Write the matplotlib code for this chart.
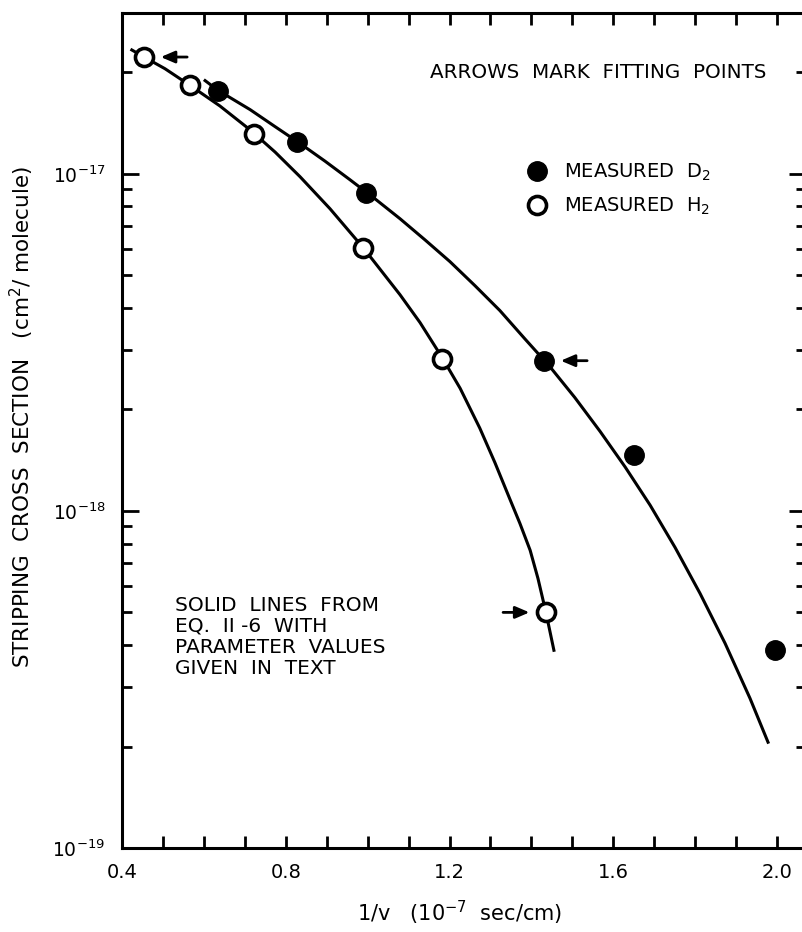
import matplotlib

matplotlib.use("Agg")
import matplotlib.pyplot as plt
from matplotlib.lines import Line2D
from matplotlib.ticker import FixedLocator, LogLocator, NullFormatter, MultipleLocator

plt.rcParams.update(
    {
        "font.family": "DejaVu Sans",
        "font.size": 12,
        "mathtext.default": "regular",
        "axes.linewidth": 2.2,
    }
)

# 1/v in units of 1e-7 sec/cm, cross sections in cm^2/molecule
d2_x = [0.634, 0.827, 0.996, 1.431, 1.651, 1.995]
d2_y = [1.76e-17, 1.24e-17, 8.8e-18, 2.79e-18, 1.47e-18, 3.86e-19]
h2_x = [0.454, 0.566, 0.722, 0.989, 1.182, 1.436]
h2_y = [2.22e-17, 1.83e-17, 1.31e-17, 6.04e-18, 2.83e-18, 5.0e-19]

# Eq. II-6 curves, sampled along each line
d2_fit_x = [0.603, 0.634, 0.713, 0.774, 0.835, 0.896, 0.957, 1.018, 1.079, 1.140,
            1.201, 1.262, 1.323, 1.384, 1.445, 1.506, 1.568, 1.629, 1.690, 1.751,
            1.812, 1.873, 1.934, 1.978]
d2_fit_y = [1.89e-17, 1.77e-17, 1.55e-17, 1.38e-17, 1.23e-17, 1.09e-17, 9.60e-18,
            8.43e-18, 7.36e-18, 6.37e-18, 5.49e-18, 4.66e-18, 3.93e-18, 3.24e-18,
            2.68e-18, 2.17e-18, 1.72e-18, 1.35e-18, 1.04e-18, 7.79e-19, 5.69e-19,
            4.05e-19, 2.78e-19, 2.06e-19]
h2_fit_x = [0.424, 0.454, 0.505, 0.566, 0.639, 0.713, 0.774, 0.835, 0.908, 0.989,
            1.079, 1.128, 1.182, 1.226, 1.274, 1.311, 1.348, 1.372, 1.397, 1.416,
            1.436, 1.455]
h2_fit_y = [2.33e-17, 2.22e-17, 2.05e-17, 1.83e-17, 1.59e-17, 1.35e-17, 1.16e-17,
            9.80e-18, 7.88e-18, 6.04e-18, 4.38e-18, 3.62e-18, 2.85e-18, 2.31e-18,
            1.76e-18, 1.39e-18, 1.08e-18, 9.18e-19, 7.64e-19, 6.31e-19, 4.97e-19,
            3.86e-19]

# points used for the fit: (x, y, side the arrow comes from)
fit_points = [(h2_x[0], h2_y[0], 1), (d2_x[3], d2_y[3], 1), (h2_x[5], h2_y[5], -1)]

x_ticks = [0.4, 0.8, 1.2, 1.6, 2.0]
x_ticklabels = ["0.4", "0.8", "1.2", "1.6", "2.0"]
y_ticks = [1e-19, 1e-18, 1e-17]
y_ticklabels = ["$10^{-19}$", "$10^{-18}$", "$10^{-17}$"]

fig = plt.figure(figsize=(8.02, 9.32), dpi=100)
ax = fig.add_axes([0.1521, 0.0901, 0.8525, 0.8960])

ax.plot(d2_fit_x, d2_fit_y, color="black", lw=2.2, zorder=2)
ax.plot(h2_fit_x, h2_fit_y, color="black", lw=2.2, zorder=2)
ax.plot(d2_x, d2_y, ls="none", marker="o", ms=14, mfc="black", mec="black", zorder=3)
ax.plot(h2_x, h2_y, ls="none", marker="o", ms=13, mfc="white", mec="black", mew=2.6, zorder=3)

for x, y, side in fit_points:
    ax.annotate(
        "",
        xy=(x, y),
        xytext=(side * 31, 0),
        textcoords="offset points",
        arrowprops=dict(arrowstyle="-|>,head_length=0.7,head_width=0.3", color="black",
                        lw=2.0, shrinkA=0, shrinkB=12),
    )

ax.set_yscale("log")
ax.set_xlim(0.4, 2.07)
ax.set_ylim(1e-19, 3e-17)

ax.xaxis.set_major_locator(FixedLocator(x_ticks))
ax.set_xticklabels(x_ticklabels)
ax.xaxis.set_minor_locator(MultipleLocator(0.1))
ax.yaxis.set_major_locator(FixedLocator(y_ticks))
ax.set_yticklabels(y_ticklabels)
ax.yaxis.set_minor_locator(LogLocator(base=10, subs=range(2, 10)))
ax.yaxis.set_minor_formatter(NullFormatter())

ax.tick_params(axis="both", which="both", direction="in", top=True, right=True, width=2.0)
ax.tick_params(axis="x", which="both", length=8.5, pad=11, labelsize=14)
ax.tick_params(axis="y", which="major", length=12, pad=12, labelsize=13.5)
ax.tick_params(axis="y", which="minor", length=7.5)

ax.text(0.4505, 0.929, "ARROWS  MARK  FITTING  POINTS", transform=ax.transAxes,
        ha="left", va="center", fontsize=14.3)
ax.text(0.0775, 0.302,
        "SOLID  LINES  FROM\nEQ.  II -6  WITH\nPARAMETER  VALUES\nGIVEN  IN  TEXT",
        transform=ax.transAxes, ha="left", va="top", fontsize=14.5, linespacing=1.13)

handles = [
    Line2D([], [], ls="none", marker="o", ms=14, mfc="black", mec="black"),
    Line2D([], [], ls="none", marker="o", ms=13, mfc="white", mec="black", mew=2.6),
]
ax.legend(handles, ["MEASURED  D$_2$", "MEASURED  H$_2$"], loc="upper left",
          bbox_to_anchor=(0.578, 0.833), frameon=False, fontsize=14,
          handlelength=1.0, handletextpad=0.9, labelspacing=0.62, borderpad=0)

fig.text(0.027, 0.552, "STRIPPING  CROSS  SECTION   (cm$^2$/ molecule)", rotation=90,
         ha="center", va="center", fontsize=15.5)
fig.text(0.573, 0.021, "1/v   (10$^{-7}$  sec/cm)", ha="center", va="center", fontsize=15)

fig.savefig("out.png", dpi=100)
